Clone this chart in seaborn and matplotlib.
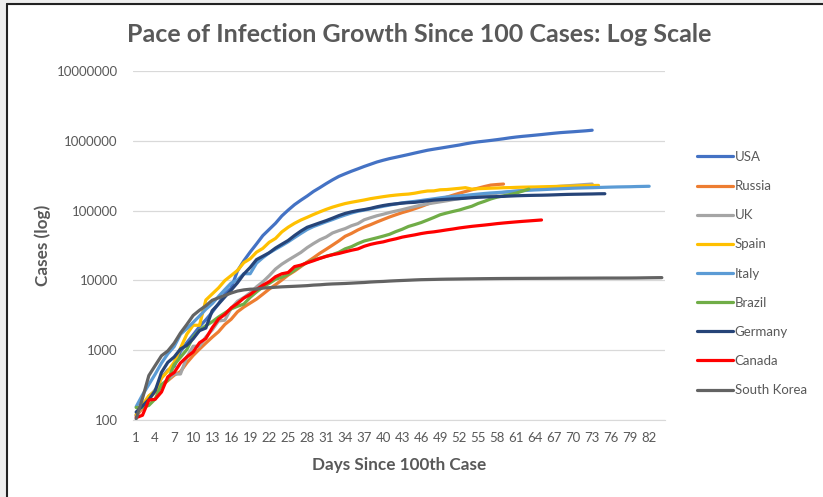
import matplotlib
matplotlib.use("Agg")
import pandas as pd
import seaborn as sns
import matplotlib.pyplot as plt
from matplotlib.patches import Rectangle

# cumulative cases, counted from the day each country passed 100 cases
usa = [118,149,217,262,402,518,583,959,1281,1663,2179,2726,3499,4632,6421,7786,13680,19101,25493,33276,
       43847,53740,65778,83836,101657,121478,140886,161807,188172,213372,243453,275586,308850,337072,366667,
       396223,429052,461437,496535,526396,555313,580619,607670,636350,667801,699706,732197,758809,784326,811865,
       840351,869170,905358,938154,965785,988197,1012582,1039909,1069424,1103461,1132539,1158040,1180375,1204351,
       1229331,1257023,1283929,1309550,1329260,1347881,1369376,1390406,1417774]
russia = [114,147,199,253,306,367,438,495,658,840,1036,1264,1534,1836,2337,2777,3548,4149,4731,5389,
          6343,7497,8672,10131,11917,13584,15770,18328,21102,24490,27938,32008,36793,42853,47121,52763,57999,
          62773,68622,74588,80949,87147,93558,99399,106498,114431,124054,134686,145268,155370,165929,177160,
          187859,198676,209688,221344,232243,236500,240000]
uk = [115,163,206,273,321,382,456,456,798,1140,1140,1543,1950,2626,2689,3983,5018,5683,6650,8077,
      9529,11658,14543,17089,19522,22141,25150,29474,33718,38168,41903,47806,51608,55242,60733,65077,73758,
      78991,84279,88621,93873,98476,103093,108692,114217,120067,124743,129044,133495,138078,143464,148377,
      152840,157149,161145,165221,171253,177454,182260,186599,190584,194990,201101,206715,211364,215260,
      219183,223060,226463,229705,233151,236711,240161]
spain = [120,165,222,259,400,500,673,1073,1695,2277,2277,5232,6391,7798,9942,11748,13910,17963,20410,25374,
         28768,35136,39885,49515,57786,65719,73235,80110,87956,95923,104118,112065,119199,126168,131646,136675,
         141942,148220,153222,158273,163027,166831,170099,172541,177644,184948,190839,191726,198674,200210,
         204178,208389,213024,202990,205905,207634,209465,210773,212917,213435,215216,216582,217466,218011,
         219329,220325,221447,222857,223578,224350,227436,228030,228691,229540]
italy = [155,229,322,453,655,888,1128,1694,2036,2502,3089,3858,4636,5883,7375,9172,10149,12462,12462,17660,
         21157,24747,27980,31506,35713,41035,47021,53578,59138,63927,69176,74386,80589,86498,92472,97689,
         101739,105792,110574,115242,119827,124632,128948,132547,135586,139422,143626,147577,152271,156363,
         159516,162488,165155,168941,172434,175925,178972,181228,183957,187327,189973,192994,195351,197675,
         199414,201505,203591,205463,207428,209328,210717,211938,213013,214457,215858,217185,218268,219070,
         219814,221216,222104,223096]
brazil = [151,151,162,200,321,372,621,793,1021,1546,1924,2247,2554,2985,3417,3904,4256,4579,5717,6836,
          8044,9056,10360,11130,12161,14034,16170,18092,19638,20727,22192,23430,25262,28320,30425,33682,36658,
          38654,40743,43079,45757,50036,54043,59324,63100,67446,73235,79685,87187,92202,97100,101826,108620,
          115455,126611,135773,146894,156061,162699,169594,178214,190137,203165]
germany = [130,159,196,262,482,670,799,1040,1176,1457,1908,2078,3675,4585,5795,7272,9257,12327,15320,19848,
           22213,24873,29056,32986,37323,43938,50871,57695,62095,66885,71808,77872,84794,91159,96092,100123,
           103374,107663,113296,118181,122171,124908,127854,130072,131359,134753,137698,141397,143342,145184,
           147065,148291,150648,153129,154999,156513,157770,158758,159912,161539,163009,164077,164967,165664,
           166152,167007,168162,169430,170588,171324,171879,172576,173171,174098,174478]
canada = [108,117,193,198,252,415,478,657,800,943,1277,1469,2088,2790,3251,4042,4682,5576,6280,7398,
          8527,9560,11284,12437,12978,15756,16563,17872,19141,20654,22059,23316,24298,25680,27035,28209,30809,
          32814,34356,35633,37658,39402,41663,43299,44919,46895,48500,49616,51150,52865,54457,56343,57927,
          59474,60772,62046,63496,65094,66434,67702,68918,70091,71157,72278,73401]
south_korea = [104,204,433,602,833,977,1261,1766,2337,3150,3736,4335,5186,5621,6088,6593,7041,7314,7478,7513,
               7755,7869,7979,8086,8162,8236,8320,8413,8565,8652,8799,8897,8961,9037,9137,9241,9332,9478,9583,
               9661,9786,9887,9976,10062,10156,10237,10284,10331,10384,10423,10450,10480,10512,10537,10564,
               10591,10613,10635,10653,10661,10674,10683,10694,10702,10708,10718,10728,10738,10752,10761,10765,
               10774,10780,10793,10801,10804,10806,10810,10822,10840,10874,10909,10936,10962]

countries = ['USA', 'Russia', 'UK', 'Spain', 'Italy', 'Brazil', 'Germany', 'Canada', 'South Korea']
series = [usa, russia, uk, spain, italy, brazil, germany, canada, south_korea]
colors = ['#4472C4', '#ED7D31', '#A5A5A5', '#FFC000', '#5B9BD5', '#70AD47', '#264478', '#FF0000', '#636363']
n_days = 84
ytick_vals = [100, 1000, 10000, 100000, 1000000, 10000000]

rows = []
for name, vals in zip(countries, series):
    for i, v in enumerate(vals):
        rows.append({'day': i + 1, 'cases': v, 'country': name})
df = pd.DataFrame(rows)

sns.set_style("white")
plt.rcParams['font.family'] = ['Lato', 'DejaVu Sans']
grey = '#595959'

fig = plt.figure(figsize=(8.23, 4.97), dpi=100)
ax = fig.add_axes([133/823, 1 - 420/497, 532/823, 349/497])

sns.lineplot(data=df, x='day', y='cases', hue='country', hue_order=countries,
             palette=colors, linewidth=2.3, ax=ax)

ax.set_yscale('log')
ax.set_ylim(100, 10000000)
ax.set_yticks(ytick_vals)
ax.set_yticklabels([str(v) for v in ytick_vals])
ax.minorticks_off()
ax.set_xlim(0.5, n_days + 0.5)
ax.set_xticks(range(1, n_days + 1, 3))
ax.tick_params(length=0, labelsize=9.5, labelcolor=grey)
ax.tick_params(axis='x', pad=9)
ax.tick_params(axis='y', pad=11)
ax.grid(axis='y', color='#D9D9D9', linewidth=0.9)
ax.set_axisbelow(True)
for s in ['top', 'right', 'left']:
    ax.spines[s].set_visible(False)
ax.spines['bottom'].set_color('#D9D9D9')

ax.set_xlabel('Days Since 100th Case', fontsize=12.3, fontweight='bold', color=grey, labelpad=9)
ax.set_ylabel('Cases (log)', fontsize=12.3, fontweight='bold', color=grey, labelpad=4)

handles, labels = ax.get_legend_handles_labels()
ax.legend(handles, labels, loc='upper left', bbox_to_anchor=(697/823, 1 - 151/497),
          bbox_transform=fig.transFigure, frameon=False, fontsize=9.5, labelcolor=grey,
          handlelength=2.7, handletextpad=0.15, labelspacing=1.3, borderpad=0, borderaxespad=0)

fig.text(0.509, 1 - 35/497, 'Pace of Infection Growth Since 100 Cases: Log Scale',
         ha='center', va='center', fontsize=18, fontweight='bold', color=grey)

# window frame at the left and top edge
fig.patches.append(Rectangle((0, 0), 6/823, 1, transform=fig.transFigure, color='#EEEEEE', zorder=0))
fig.patches.append(Rectangle((0, 1 - 4/497), 1, 4/497, transform=fig.transFigure, color='#EEEEEE', zorder=0))
fig.lines.append(plt.Line2D([6.5/823, 6.5/823], [0, 1 - 4/497], transform=fig.transFigure, color='#222222', lw=1.5))
fig.lines.append(plt.Line2D([6.5/823, 1], [1 - 4/497, 1 - 4/497], transform=fig.transFigure, color='#222222', lw=1.5))

fig.savefig('out.png', dpi=100)
